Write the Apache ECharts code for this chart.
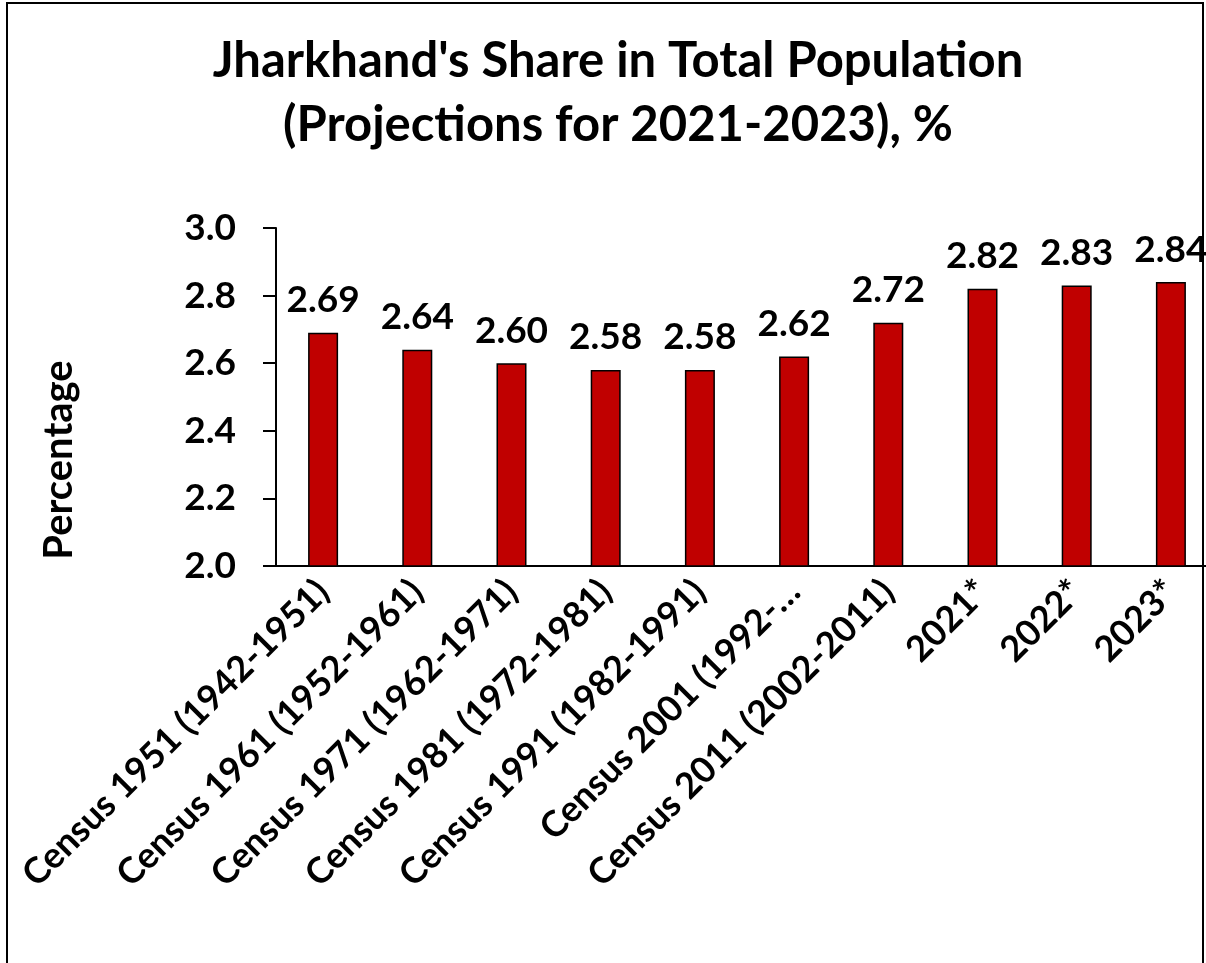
<!DOCTYPE html>
<html>
<head>
<meta charset="utf-8">
<script src="https://cdn.jsdelivr.net/npm/echarts@6/dist/echarts.min.js"></script>
<style>
  html, body { margin: 0; padding: 0; background: #fff; overflow: hidden; }
  #chart { width: 1220px; height: 963px; }
</style>
</head>
<body>
<div id="chart"></div>
<script>
const categories = [
  'Census 1951 (1942-1951)',
  'Census 1961 (1952-1961)',
  'Census 1971 (1962-1971)',
  'Census 1981 (1972-1981)',
  'Census 1991 (1982-1991)',
  'Census 2001 (1992-2001)',
  'Census 2011 (2002-2011)',
  '2021*',
  '2022*',
  '2023*'
];
const shareValues = [2.69, 2.64, 2.60, 2.58, 2.58, 2.62, 2.72, 2.82, 2.83, 2.84];
const yTicks = [2.0, 2.2, 2.4, 2.6, 2.8, 3.0];

// the original chart cuts this one label short
const clippedLabels = { 5: 'Census 2001 (1992-…' };

const FONT = 'Lato';

const chart = echarts.init(document.getElementById('chart'));

const option = {
  backgroundColor: '#fff',
  animation: false,
  title: {
    text: "Jharkhand's Share in Total Population\n(Projections for 2021-2023), %",
    left: 613,
    textAlign: 'center',
    top: 24,
    textStyle: {
      fontFamily: FONT,
      fontWeight: 'bold',
      fontSize: 49,
      lineHeight: 64,
      color: '#000'
    }
  },
  graphic: [
    {
      type: 'rect',
      shape: { x: 7, y: 3, width: 1196, height: 1000 },
      style: { fill: 'none', stroke: '#000', lineWidth: 2 },
      silent: true
    },
    {
      type: 'text',
      x: 59,
      y: 460,
      rotation: Math.PI / 2,
      style: {
        text: 'Percentage',
        fontFamily: FONT,
        fontWeight: 'bold',
        fontSize: 40,
        fill: '#000',
        align: 'center',
        verticalAlign: 'middle'
      }
    }
  ],
  grid: {
    left: 276,
    top: 228,
    bottom: 397,
    right: 2
  },
  xAxis: {
    type: 'category',
    data: categories,
    axisLine: { lineStyle: { color: '#000', width: 2 } },
    axisTick: { show: false },
    axisLabel: {
      interval: 0,
      rotate: 45,
      margin: 20,
      fontFamily: FONT,
      fontWeight: 'bold',
      fontSize: 36,
      color: '#000',
      formatter: (v, i) => clippedLabels[i] || v
    }
  },
  yAxis: {
    type: 'value',
    min: yTicks[0],
    max: yTicks[yTicks.length - 1],
    interval: 0.2,
    splitLine: { show: false },
    axisLine: { show: true, lineStyle: { color: '#000', width: 2 } },
    axisTick: { show: true, length: 13, lineStyle: { color: '#000', width: 2 } },
    axisLabel: {
      margin: 40,
      fontFamily: FONT,
      fontWeight: 'bold',
      fontSize: 37,
      color: '#000',
      formatter: v => v.toFixed(1)
    }
  },
  series: [
    {
      type: 'bar',
      data: shareValues,
      barWidth: 30,
      itemStyle: { color: '#C00000', borderColor: '#000', borderWidth: 1.5 },
      label: {
        show: true,
        position: 'top',
        distance: 14,
        fontFamily: FONT,
        fontWeight: 'bold',
        fontSize: 37,
        color: '#000',
        formatter: p => p.value.toFixed(2)
      }
    }
  ]
};

chart.setOption(option);
</script>
</body>
</html>
